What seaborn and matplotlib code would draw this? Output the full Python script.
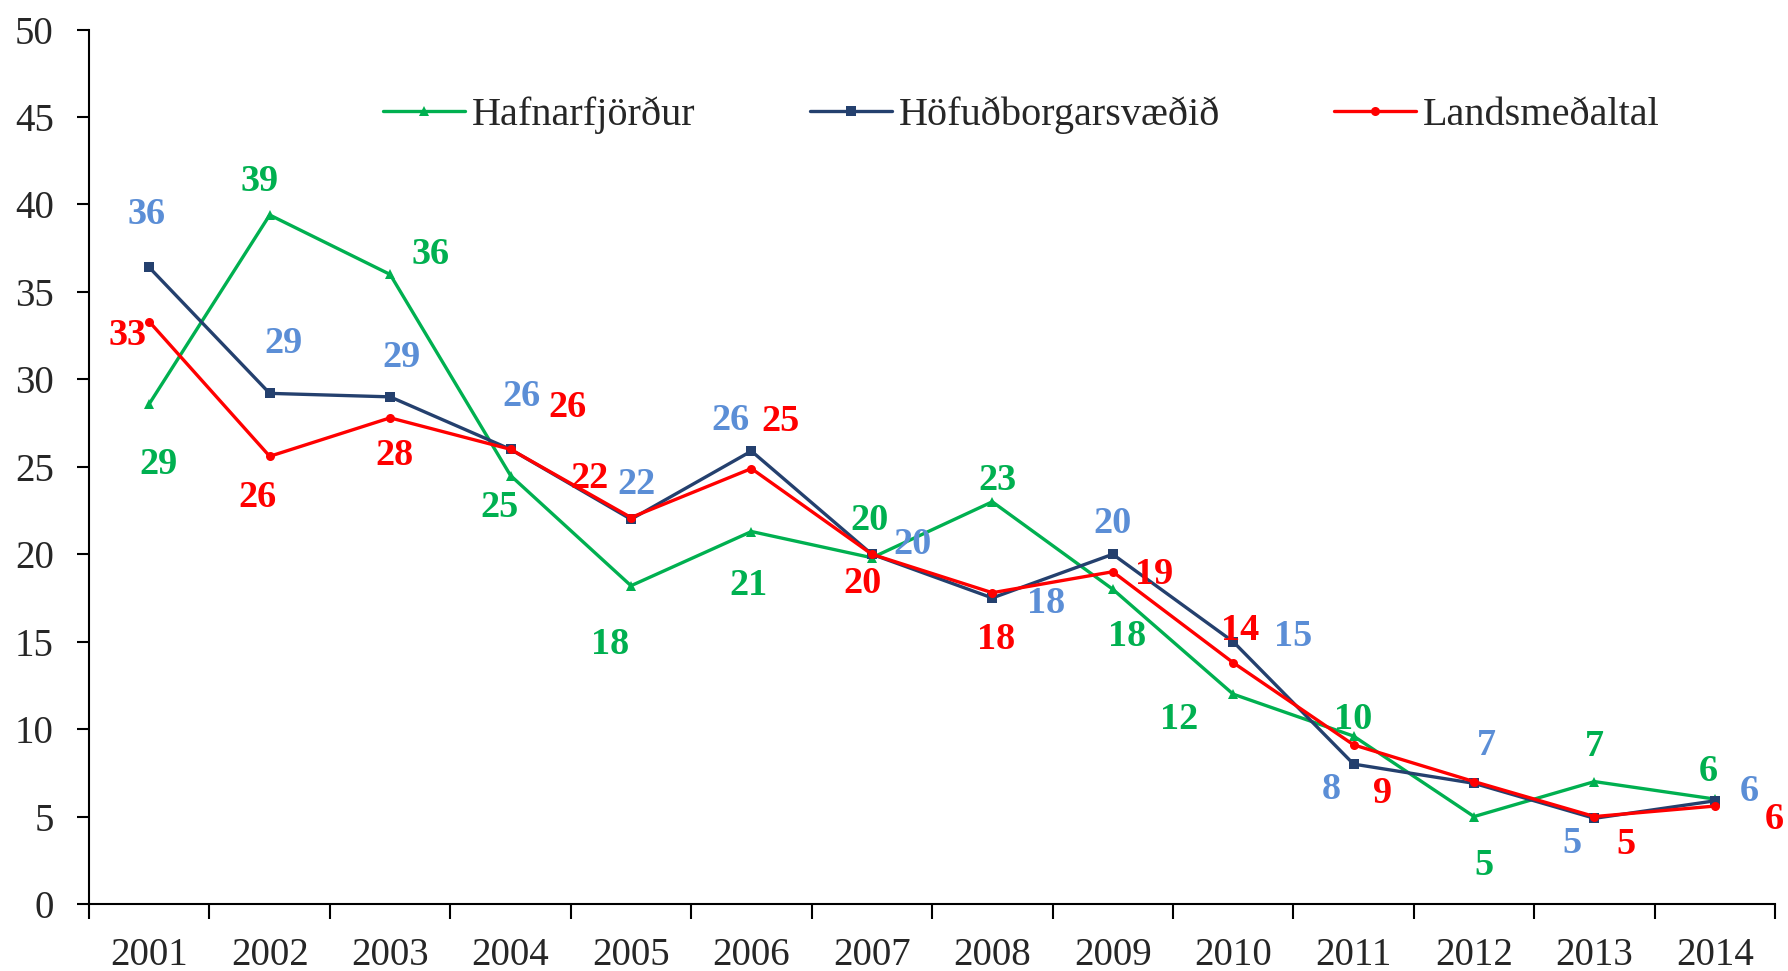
import numpy as np
import pandas as pd
import seaborn as sns
import matplotlib.pyplot as plt

# data
years = ['2001', '2002', '2003', '2004', '2005', '2006', '2007',
         '2008', '2009', '2010', '2011', '2012', '2013', '2014']
hafnarfjordur = [28.6, 39.4, 36.0, 24.5, 18.2, 21.3, 19.8, 23.0, 18.0, 12.0, 9.6, 5.0, 7.0, 6.0]
hofudborg = [36.4, 29.2, 29.0, 26.0, 22.0, 25.9, 20.0, 17.5, 20.0, 15.0, 8.0, 6.9, 4.9, 5.9]
landsmedaltal = [33.3, 25.6, 27.8, 26.0, 22.1, 24.9, 20.0, 17.8, 19.0, 13.8, 9.1, 7.0, 5.0, 5.6]

series_names = ['Hafnarfjörður', 'Höfuðborgarsvæðið', 'Landsmeðaltal']

# label offsets (points) for the value labels, None = no label
green_off = [(7, -44), (-7, 24), (29, 14), (-8, -23), (-15, -42), (-2, -39), (-2, 27),
             (4, 15), (10, -34), (-39, -18), (0, 12), (7, -35), (0, 25), (-5, 20)]
blue_off = [(-2, 38), (10, 36), (8, 28), (8, 38), (4, 25), (-15, 22), (29, 7),
            (39, -4), (0, 22), (43, 4), (-16, -18), (9, 27), (-16, -18), (25, 7)]
red_off = [(-16, -10), (-9, -30), (3, -27), (41, 30), (-30, 28), (21, 34), (-7, -21),
           (3, -34), (30, -2), (5, 23), (21, -35), None, (23, -20), (43, -10)]

sns.set_style('ticks')
plt.rcParams['font.family'] = ['Liberation Serif', 'DejaVu Serif']

fig = plt.figure(figsize=(17.88, 9.71), dpi=100)
ax = fig.add_axes([0.0498, 0.069, 0.943, 0.9005])

x = np.arange(len(years))
styles = [
    (hafnarfjordur, '#00B050', '#00B050', '^', 6.5, green_off),
    (hofudborg, '#24406E', '#5B8ED6', 's', 7, blue_off),
    (landsmedaltal, '#FF0000', '#FF0000', 'o', 6.5, red_off),
]

for name, (vals, lc, tc, mk, ms, offs) in zip(series_names, styles):
    df = pd.DataFrame({'year': x, 'value': vals})
    sns.lineplot(data=df, x='year', y='value', ax=ax, color=lc, marker=mk,
                 markersize=ms, markeredgewidth=0, linewidth=2.4, label=name)
    for xi, v, off in zip(x, vals, offs):
        if off is None:
            continue
        ax.annotate(str(int(np.floor(v + 0.5))), (xi, v), xytext=off,
                    textcoords='offset points', ha='center', va='center',
                    color=tc, fontsize=27.5, fontweight='bold')

ax.set_xlim(-0.5, len(years) - 0.5)
ax.set_ylim(0, 50)
ax.set_yticks(np.arange(0, 51, 5))
ax.set_xticks(np.arange(-0.5, len(years), 1.0))
ax.set_xticklabels([])
ax.set_xticks(x, minor=True)
ax.set_xticklabels(years, minor=True)
ax.tick_params(axis='x', which='major', direction='out', length=11, width=1.5, color='black')
ax.tick_params(axis='x', which='minor', length=0, pad=24, labelsize=28)
ax.tick_params(axis='y', direction='out', length=8.5, width=1.5, pad=17, labelsize=28, color='black')
ax.set_xlabel('')
ax.set_ylabel('')
sns.despine(ax=ax)
for s in ['left', 'bottom']:
    ax.spines[s].set_linewidth(1.5)
    ax.spines[s].set_color('black')

ax.legend(loc='center', bbox_to_anchor=(0.553, 0.902), ncol=3, frameon=False,
          fontsize=29, handlelength=2.04, handletextpad=0.17, columnspacing=2.83)

fig.savefig('out.png', dpi=100)
